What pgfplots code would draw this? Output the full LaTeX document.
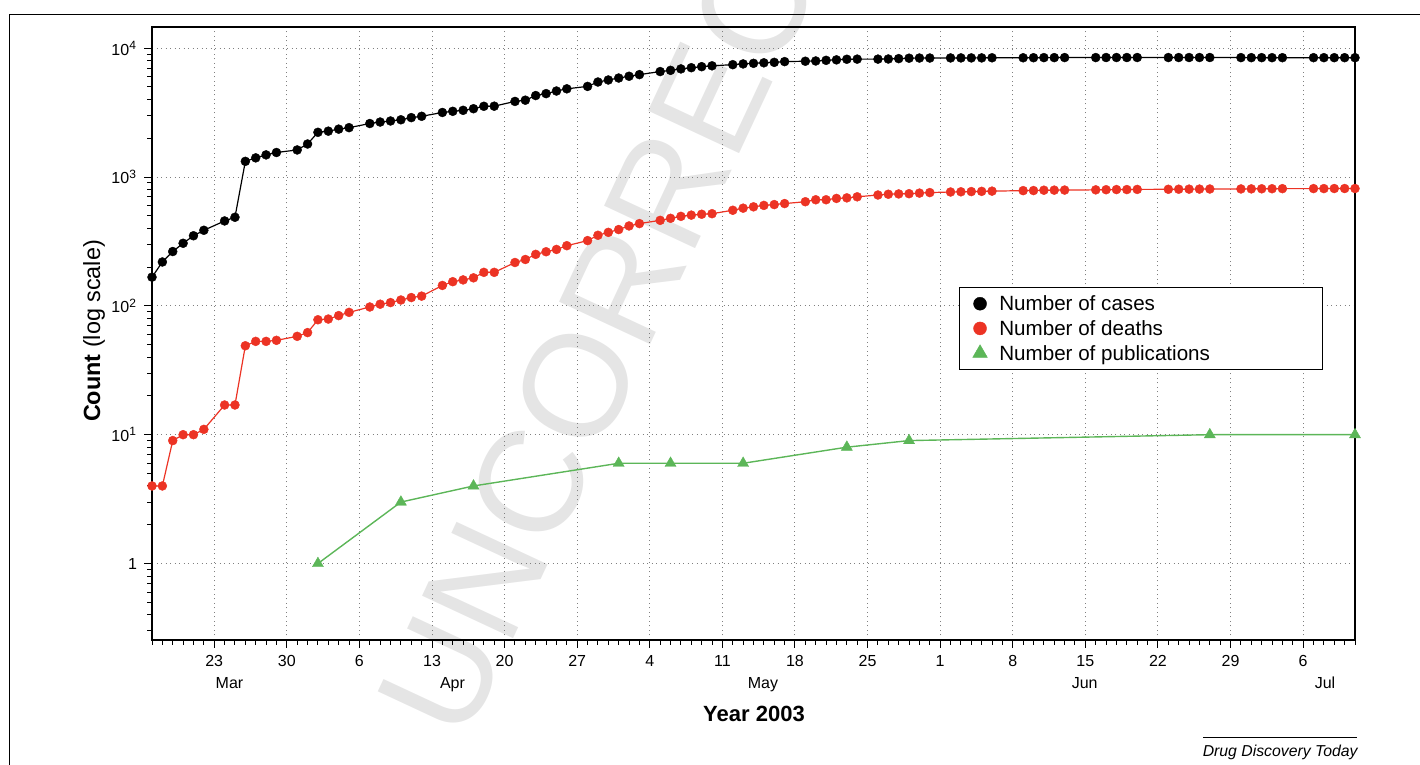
\documentclass[border=0pt]{standalone}
\usepackage{fontspec}
\setmainfont{Liberation Sans}
\usepackage{pgfplots}
\pgfplotsset{compat=1.18}
\usepackage{pgfplotstable}

\definecolor{sarsred}{RGB}{236,51,36}
\definecolor{pubgreen}{RGB}{92,182,88}
\definecolor{wmgray}{RGB}{229,229,229}

% day = day counted from 28 Feb 2003 (so Mar 17 = 17, Apr 1 = 32, May 1 = 62, Jun 1 = 93, Jul 1 = 123)
\pgfplotstableread{
day cases deaths
17 167 4
18 219 4
19 264 9
20 306 10
21 350 10
22 386 11
24 456 17
25 487 17
26 1323 49
27 1408 53
28 1485 53
29 1550 54
31 1622 58
32 1804 62
33 2223 78
34 2270 79
35 2353 84
36 2416 89
38 2601 98
39 2671 103
40 2722 106
41 2781 111
42 2890 116
43 2960 119
45 3169 144
46 3235 154
47 3293 159
48 3389 165
49 3540 182
50 3547 182
52 3861 217
53 3947 229
54 4288 251
55 4439 263
56 4649 274
57 4836 293
59 5050 321
60 5462 353
61 5663 372
62 5865 391
63 6054 417
64 6234 435
66 6583 461
67 6727 478
68 6903 495
69 7053 506
70 7183 514
71 7296 519
73 7447 552
74 7548 573
75 7628 587
76 7699 602
77 7761 611
78 7864 622
80 7919 643
81 7956 666
82 8046 666
83 8114 682
84 8202 689
85 8221 702
87 8221 725
88 8240 735
89 8295 739
90 8360 742
91 8384 750
92 8384 757
94 8398 765
95 8402 768
96 8403 771
97 8404 774
98 8421 777
101 8421 784
102 8430 785
103 8445 790
104 8445 791
105 8454 792
108 8454 795
109 8460 797
110 8460 799
111 8460 799
112 8461 801
115 8458 803
116 8459 804
117 8459 805
118 8460 806
119 8462 807
122 8447 808
123 8439 809
124 8439 810
125 8436 811
126 8436 812
129 8439 813
130 8439 813
131 8437 814
132 8437 814
133 8437 814
}\sars

\pgfplotstableread{
day pubs
33 1
41 3
48 4
62 6
67 6
74 6
84 8
90 9
119 10
133 10
}\pubs

\newcommand\lgstrut{\rule[-3.2pt]{0pt}{11.85pt}}

\begin{document}
\begin{tikzpicture}[x=1pt,y=1pt]
\path[use as bounding box] (0,0) rectangle (710,382.5);
\begin{scope}
  \clip (0,0) rectangle (710,382.5);
  \node[rotate=65, anchor=base west, text=wmgray, inner sep=0pt,
        font=\fontsize{73}{73}\selectfont] at (232,10) {UNCORRECTED PROOF};
  \draw[line width=0.6pt] (4.65,-5) -- (4.65,375.35) -- (720,375.35);
\end{scope}

\begin{axis}[
  at={(76pt,62.5pt)}, anchor=south west,
  scale only axis, width=601.5pt, height=306.5pt,
  ymode=log,
  xmin=17, xmax=133, ymin=0.255, ymax=14600,
  clip=false,
  axis line style={line width=0.6pt},
  tick pos=left, tick align=outside,
  xtick={23,30,...,128},
  xticklabels={23,30,6,13,20,27,4,11,18,25,1,8,15,22,29,6},
  minor xtick={17,...,133},
  ytick={1,10,100,1000,10000},
  yticklabels={1,10\textsuperscript{1},10\textsuperscript{2},10\textsuperscript{3},10\textsuperscript{4}},
  minor ytick={0.3,0.4,0.5,0.6,0.7,0.8,0.9,2,3,4,5,6,7,8,9,20,30,40,50,60,70,80,90,200,300,400,500,600,700,800,900,2000,3000,4000,5000,6000,7000,8000,9000},
  major tick length=4pt, minor tick length=2.3pt,
  tick style={black, line width=0.5pt},
  xmajorgrids, ymajorgrids,
  major grid style={draw=gray, line width=0.5pt, dash pattern=on 0.5pt off 1.75pt},
  tick label style={font=\fontsize{8}{9.6}\selectfont},
  legend style={at={(0.6708,0.5759)}, anchor=north west, draw=black, line width=0.6pt,
    inner xsep=6.6pt, inner ysep=3pt, nodes={inner sep=0pt}, column sep=6pt, row sep=2.2pt,
    font=\fontsize{10.3}{12}\selectfont},
  legend cell align=left,
  legend image code/.code={\draw[#1] plot[only marks] coordinates {(0pt,0pt)};},
]
\addplot[black, line width=0.6pt, mark=*, mark size=2.25pt,
  mark options={solid, fill=black, line width=0.2pt},
  legend image post style={mark size=3.25pt}]
  table[x=day, y=cases] {\sars};
\addlegendentry{\makebox[155pt][l]{\lgstrut Number of cases}}

\addplot[sarsred, line width=0.6pt, mark=*, mark size=2.25pt,
  mark options={solid, fill=sarsred, line width=0.2pt},
  legend image post style={mark size=3.25pt}]
  table[x=day, y=deaths] {\sars};
\addlegendentry{\makebox[155pt][l]{\lgstrut Number of deaths}}

\addplot[pubgreen, line width=0.7pt, mark=triangle*, mark size=3.2pt,
  mark options={solid, fill=pubgreen, line width=0.2pt},
  legend image post style={mark size=4.2pt}]
  table[x=day, y=pubs] {\pubs};
\addlegendentry{\makebox[155pt][l]{\lgstrut Number of publications}}
\end{axis}

\node[rotate=90, anchor=base, font=\fontsize{11.7}{14}\selectfont] at (50,217) {\textbf{Count} (log scale)};
\node[anchor=base, font=\fontsize{11}{13}\selectfont\bfseries] at (377,21.5) {Year 2003};
\begin{scope}[every node/.style={anchor=base, font=\fontsize{8}{9.6}\selectfont}]
  \node at (114.75,38) {Mar};
  \node at (226.25,38) {Apr};
  \node at (381.5,38) {May};
  \node at (542.35,38) {Jun};
  \node at (662.5,38) {Jul};
\end{scope}
\draw[line width=0.5pt] (601.5,13.85) -- (678.5,13.85);
\node[anchor=base east, inner sep=0pt, font=\fontsize{7.9}{9.5}\selectfont\itshape] at (679,4.15) {Drug Discovery Today};
\end{tikzpicture}
\end{document}
